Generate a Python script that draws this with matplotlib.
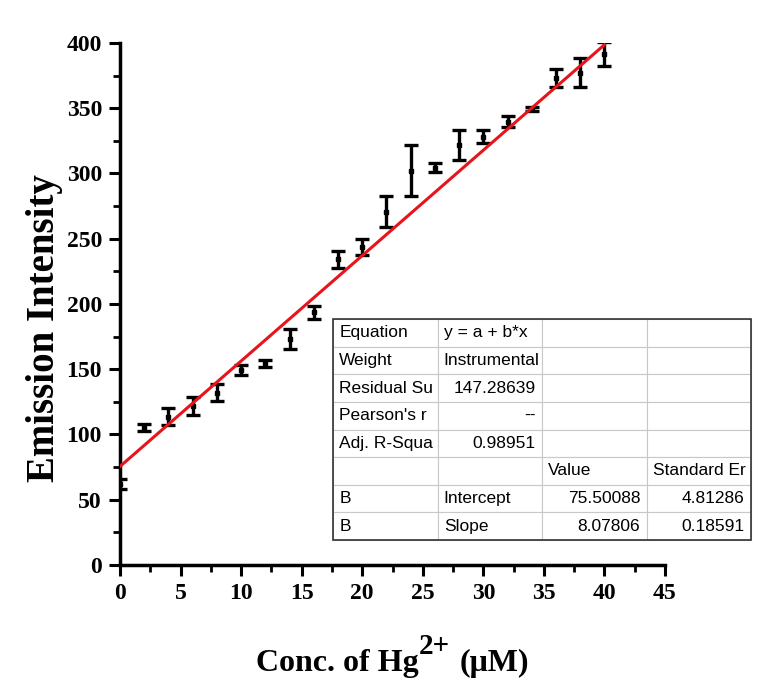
import numpy as np
import matplotlib.pyplot as plt
import matplotlib.patches as mpatches
from matplotlib.ticker import MultipleLocator

# Hg2+ titration: emission intensity vs concentration
conc = [0, 2, 4, 6, 8, 10, 12, 14, 16, 18, 20, 22, 24, 26, 28, 30, 32, 34, 36, 38, 40]
intensity = [62, 105.2, 113.6, 121.8, 132.0, 149.4, 154.5, 173.2, 193.6, 234.2, 243.9,
             270.8, 302.2, 304.5, 321.8, 328.2, 339.7, 349.2, 372.9, 377.2, 391.5]
err = [4, 2.5, 6.4, 7.0, 6.4, 4.0, 2.5, 7.4, 5.0, 6.4, 6.0,
       11.9, 19.3, 3.6, 11.5, 4.9, 4.3, 1.7, 6.8, 11.2, 9.0]

# linear fit parameters
a = 75.50088
b = 8.07806

table_rows = [
    ['Equation', 'y = a + b*x', '', ''],
    ['Weight', 'Instrumental', '', ''],
    ['Residual Su', '147.28639', '', ''],
    ["Pearson's r", '--', '', ''],
    ['Adj. R-Squa', '0.98951', '', ''],
    ['', '', 'Value', 'Standard Er'],
    ['B', 'Intercept', '75.50088', '4.81286'],
    ['B', 'Slope', '8.07806', '0.18591'],
]
right_cells = {(2, 1), (3, 1), (4, 1), (6, 2), (6, 3), (7, 2), (7, 3)}

plt.rcParams['font.family'] = ['Liberation Serif', 'DejaVu Serif']

W, H = 762, 682
fig = plt.figure(figsize=(W / 100, H / 100), dpi=100)
ax = fig.add_axes([0.1575, 0.1716, 0.7152, 0.7654])

x = np.array(conc)
ax.errorbar(x, intensity, yerr=err, fmt='s', color='black', ms=3.5,
            elinewidth=2.4, capsize=5, capthick=2.4, zorder=3)

xfit = np.array([0, 40])
ax.plot(xfit, a + b * xfit, color='#e8141c', lw=2.2, zorder=4)

ax.set_xlim(0, 45)
ax.set_ylim(0, 400)
ax.xaxis.set_major_locator(MultipleLocator(5))
ax.xaxis.set_minor_locator(MultipleLocator(2.5))
ax.yaxis.set_major_locator(MultipleLocator(50))
ax.yaxis.set_minor_locator(MultipleLocator(25))

for side in ['top', 'right']:
    ax.spines[side].set_visible(False)
for side in ['left', 'bottom']:
    ax.spines[side].set_linewidth(2.5)

ax.tick_params(which='major', direction='out', length=8, width=2.2, labelsize=17, pad=5)
ax.tick_params(which='minor', direction='out', length=5, width=2)
for lbl in ax.get_xticklabels() + ax.get_yticklabels():
    lbl.set_fontweight('bold')

ax.set_ylabel('Emission Intensity', fontsize=28, fontweight='bold')
ax.yaxis.set_label_coords(-0.105, 0.454)

# x label built from pieces so the 2+ superscript can be sized freely
r = fig.canvas.get_renderer()
pieces = [('Conc. of Hg', 23, 0, 0), ('2+', 21, 17, 10), ('(\u03bcM)', 23, 0, 0)]
texts = []
for s, size, rise, gap in pieces:
    t = fig.text(0, 0, s, fontsize=size, fontweight='bold', va='baseline', ha='left')
    texts.append((t, rise, gap))
widths = [t.get_window_extent(r).width for t, _, _ in texts]
gaps = [g for _, _, g in texts]
total = sum(widths) + sum(gaps)
xc = (ax.get_position().x0 + ax.get_position().x1) / 2 * W
xpos = xc - total / 2
base = 11
for (t, rise, gap), w in zip(texts, widths):
    t.set_position((xpos / W, (base + rise) / H))
    xpos += w + gap

tab = ax.table(cellText=table_rows, bbox=[0.391, 0.048, 0.767, 0.423], zorder=5)
tab.auto_set_font_size(False)
for (row, col), cell in tab.get_celld().items():
    cell.set_edgecolor('#c8c8c8')
    cell.set_linewidth(0.8)
    cell.set_facecolor('white')
    cell.PAD = 0.06
    txt = cell.get_text()
    txt.set_fontsize(12.5)
    txt.set_fontfamily(['Liberation Sans', 'DejaVu Sans'])
    cell.set_text_props(ha='right' if (row, col) in right_cells else 'left')

# dark outline round the table
ax.add_patch(mpatches.Rectangle((0.391, 0.048), 0.767, 0.423, transform=ax.transAxes,
                                fill=False, ec='#333333', lw=1.2, zorder=6, clip_on=False))

fig.savefig('out.png', dpi=100)
